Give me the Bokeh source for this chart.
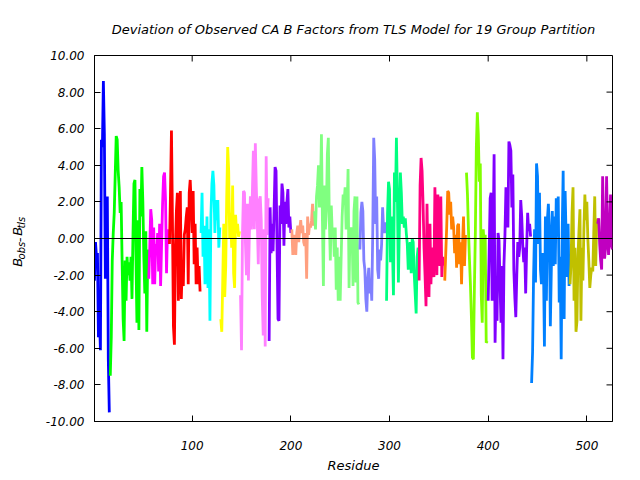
import numpy as np
from bokeh.plotting import figure
from bokeh.layouts import row
from bokeh.models import (Range1d, LinearAxis, FixedTicker, PrintfTickFormatter,
                          Span, ColumnDataSource)
from bokeh.core.properties import value
from bokeh.embed import file_html
from bokeh.resources import INLINE

FONT = "DejaVu Sans"

title_text = "Deviation of Observed CA B Factors from TLS Model for 19 Group Partition"
x_label = "Residue"
y_label_parts = ["B", "obs", "-", "B", "tls"]
y_ticks = [-10, -8, -6, -4, -2, 0, 2, 4, 6, 8, 10]
x_ticks = [100, 200, 300, 400, 500]
x_min, x_max = 1, 526
y_min, y_max = -10, 10

segment_colors = ["#0000FF", "#00FF00", "#FF00FF", "#FF0000", "#00FFFF", "#FFFF00",
                  "#FF80FF", "#8000FF", "#FFA080", "#80FF80", "#8080FF", "#00FF80",
                  "#FF0080", "#FF8000", "#80FF00", "#8000FF", "#0080FF", "#C0C000",
                  "#C000C0"]
segment_starts = [1, 17, 56, 77, 109, 129, 149, 178, 201, 224, 270, 297, 330, 356,
                  378, 400, 444, 483, 511]

seg01 = [-2.3, -0.2, -1.0, -0.8, -5.4, -4.2, -6.1, 5.4, 5.0, 8.6, 5.7, -2.2, 0.5, 2.3, -6.6, -9.5]
seg02 = [-7.5, -5.4, -1.2, 0.3, 1.4, 3.5, 5.6, 5.4, 3.7, 2.8, 1.4, 2.0, -1.3, -4.4, -5.6, -1.2,
         -3.4, -1.0, -2.0, -1.3, -2.3, -1.0, -3.3, 0.2, 3.0, 3.2, -1.0, -4.6, 1.0, -5.0, 2.7,
         1.2, 3.9, 2.0, -1.0, -3.0, 0.4, -5.1, -0.6]
seg03 = [-2.2, -0.5, 1.6, 1.0, -2.5, 0.6, -2.5, -0.3, -0.7, 0.3, -1.8, 0.8, -2.6, -0.3, 1.9,
         3.4, 3.6, 2.1, -1.9, 0.5, -0.3]
seg04 = [-0.3, 2.4, 5.9, 1.0, -4.8, -5.8, -0.5, 1.5, 2.5, -3.4, 0.5, 2.6, -3.3, -1.3, -2.6,
         0.2, 0.5, 1.2, 1.7, -2.5, 2.5, 3.2, 1.9, 0.3, 2.6, -1.4, 0.8, -2.5, -0.5, -2.5, -1.5, -2.9]
seg05 = [0.3, 2.5, -1.0, 0.7, -2.5, -1.7, 1.2, -2.7, 0.5, -4.5, 1.3, 3.0, 3.7, 2.9, 0.3, 2.1,
         1.0, 2.1, -0.5, 0.6]
seg06 = [-4.4, -5.1, -2.2, 0.8, -3.2, -1.5, 2.3, 5.0, 3.7, 0.0, 1.4, -0.5, 2.9, -1.9, -2.7,
         1.3, 0.3, 0.8, 0.1, 0.4]
seg07 = [-3.1, -6.1, 0.3, 2.6, 2.5, -0.3, -2.0, 1.9, -2.3, 0.3, 2.3, 0.5, 2.5, 4.8, 0.5, 5.2,
         2.8, 0.9, -1.4, 2.1, 2.3, 1.0, -3.2, -5.3, 0.5, -5.9, 4.5, 0.2, 2.2]
seg08 = [-5.6, 1.7, -0.8, 0.8, -0.7, 1.5, 3.9, 3.7, -0.5, -4.4, -4.5, 1.8, 0.8, 3.0, 2.5,
         -0.4, 2.0, 0.8, 2.0, 2.7, 0.6, 1.2, 0.3]
seg09 = [0.5, -0.9, -0.2, 0.2, -0.9, 0.3, 0.7, -0.2, 0.5, 1.0, 0.3, 0.7, -0.2, -0.4, 0.3,
         -2.2, 1.2, 0.2, 0.8, 0.6, 1.0, 1.9, 0.7]
seg10 = [1.5, 0.5, 2.3, 2.9, 4.0, 1.7, 2.5, 5.7, 1.0, -2.6, 2.9, 0.5, 1.5, 4.6, 5.5, 1.0,
         -1.2, 1.8, 0.2, 0.6, -1.0, 0.6, -2.8, -0.5, -3.4, -1.0, -3.4, -1.0, 1.2, 2.4, 2.0,
         2.8, 0.5, 1.5, 3.8, -2.7, 0.6, 0.1, 0.6, -2.6, 1.5, 2.3, -2.4, 2.3, -3.5, -3.6]
seg11 = [-0.6, 1.4, 2.0, 1.5, -1.2, -1.7, -3.3, -4.0, -2.2, -1.6, -3.0, -2.2, -3.4, 0.3, 5.5,
         4.3, 0.8, 2.3, -1.7, -2.2, -0.6, -1.2, -0.3, 1.7, 0.5, 0.3, 0.9]
seg12 = [-3.4, 1.4, 3.1, 2.7, -1.3, 1.2, -0.5, -3.1, 3.6, 2.0, 5.5, 2.3, -2.4, 0.6, 3.6, 2.5,
         0.8, 1.2, 0.6, 1.1, 0.3, -0.3, -1.7, -0.6, -0.2, -1.9, 0.0, -0.2, -1.9, -3.0, -4.1,
         -1.0, -0.5]
seg13 = [-2.3, 2.9, 4.4, 3.7, 1.9, -0.5, -2.0, -3.7, 1.9, -1.5, -3.2, 0.8, -2.5, -0.5, -1.8,
         -2.1, 2.8, 0.5, -2.0, 2.4, 0.3, -1.5, 2.3, -2.1, -1.0, -1.5]
seg14 = [-2.3, -0.8, 0.7, 2.6, 2.5, 1.3, 2.0, 0.5, 1.2, 0.6, -0.8, 0.2, -1.6, 0.7, 0.8, -1.4,
         -0.2, -2.5, -0.3, 1.2, -1.5, 0.2]
seg15 = [3.6, 2.4, 0.5, -1.1, -2.5, -4.3, -6.5, -6.6, -2.8, 0.3, 5.0, 6.9, 5.7, 3.1, 4.1,
         -3.1, -4.6, 0.5, -0.4, 0.2, -5.7, -5.6]
seg16 = [-3.4, -0.7, 2.2, 2.5, -3.4, 0.0, 4.6, -5.7, -2.5, -4.5, 0.3, -0.1, -2.5, -4.6, -1.5,
         -6.6, -1.4, 0.2, 2.8, 2.5, 0.6, 5.3, 5.1, 4.8, 1.7, 3.5, -1.7, -3.2, -4.3, -2.0, -0.2,
         -1.0, -0.5, 2.1, 1.2, -0.3, -1.3, -0.5, -3.0, -0.5, 1.4, 0.4, 0.8, 0.1]
seg17 = [-7.9, -6.2, -2.1, 0.5, -2.4, 4.1, 3.4, -0.3, 2.5, -1.7, -2.5, -0.8, -1.2, -5.9, 1.2,
         -3.4, 1.0, 1.9, 0.6, -4.8, -1.7, 1.5, -1.5, 1.2, -1.4, 2.2, 0.1, 2.3, -3.5, -1.0,
         -6.6, 0.3, 3.7, -4.4, 2.6, 0.0, -2.1, 0.8, -2.6]
seg18 = [-2.5, -1.4, 1.4, 2.8, -3.4, -0.5, -5.1, -4.5, -1.0, 0.4, 1.6, -4.5, -0.5, -2.3, 0.5,
         2.4, 1.0, 2.0, 0.0, -1.2, -2.7, -2.0, -1.6, -1.8, 0.3, 2.3, -1.5, 1.1]
seg19 = [0.8, 1.1, -0.3, -1.2, -1.7, 3.4, 0.5, -1.1, -0.5, 3.4, 0.2, -0.9, 0.4, 2.4, -0.4, -0.6]

segments = [seg01, seg02, seg03, seg04, seg05, seg06, seg07, seg08, seg09, seg10,
            seg11, seg12, seg13, seg14, seg15, seg16, seg17, seg18, seg19]

# ---------------- main plot ----------------
p = figure(width=610, height=480, output_backend="svg", toolbar_location=None,
           x_range=Range1d(x_min, x_max), y_range=Range1d(y_min, y_max),
           x_axis_type=None, y_axis_type=None,
           min_border_left=64, min_border_right=28, min_border_top=55, min_border_bottom=59)
p.outline_line_color = "black"
p.outline_line_width = 1
p.background_fill_color = "white"
p.border_fill_color = "white"

p.title.text = title_text
p.title.align = "center"
p.title.text_font = FONT
p.title.text_font_style = "italic"
p.title.text_font_size = "13px"
p.title.text_color = "black"
p.title.standoff = 38

for start, vals, col in zip(segment_starts, segments, segment_colors):
    xs = np.arange(start, start + len(vals))
    src = ColumnDataSource(dict(x=xs, y=vals))
    p.line("x", "y", source=src, line_color=col, line_width=2.8)

p.add_layout(Span(location=0, dimension="width", line_color="black", line_width=1))

# mirrored inward ticks on top and right edges
p.ray(x=x_ticks, y=[y_max] * len(x_ticks), length=6, length_units="screen",
      angle=-np.pi / 2, line_color="black", line_width=1)
p.ray(x=[x_max] * len(y_ticks), y=y_ticks, length=6, length_units="screen",
      angle=np.pi, line_color="black", line_width=1)


def style_axis(ax):
    ax.major_tick_in = 6
    ax.major_tick_out = 0
    ax.minor_tick_line_color = None
    ax.axis_line_color = "black"
    ax.major_tick_line_color = "black"
    ax.major_label_text_font = FONT
    ax.major_label_text_font_style = "italic"
    ax.major_label_text_color = "black"
    ax.major_label_text_font_size = "12px"


left = LinearAxis(ticker=FixedTicker(ticks=y_ticks), formatter=PrintfTickFormatter(format="%.2f"))
style_axis(left)
left.major_label_standoff = 10
p.add_layout(left, "left")

bottom = LinearAxis(ticker=FixedTicker(ticks=x_ticks), axis_label=x_label)
style_axis(bottom)
bottom.major_label_standoff = 19
bottom.axis_label_text_font = FONT
bottom.axis_label_text_font_style = "italic"
bottom.axis_label_text_font_size = "13px"
bottom.axis_label_text_color = "black"
bottom.axis_label_standoff = 5
p.add_layout(bottom, "below")

# ---------------- y-axis label strip: B_obs - B_tls ----------------
ylab = figure(width=30, height=480, output_backend="svg", toolbar_location=None,
              x_range=Range1d(0, 30), y_range=Range1d(0, 480),
              x_axis_type=None, y_axis_type=None,
              min_border=0, min_border_left=0, min_border_right=0,
              min_border_top=0, min_border_bottom=0)
ylab.outline_line_color = None
ylab.background_fill_color = "white"
ylab.border_fill_color = "white"
ylab.grid.visible = False

main_src = ColumnDataSource(dict(x=[17, 18.5, 17], y=[203, 235, 243.5],
                                 t=[y_label_parts[0], y_label_parts[2], y_label_parts[3]]))
sub_src = ColumnDataSource(dict(x=[20.5, 20.5], y=[212.5, 253],
                                t=[y_label_parts[1], y_label_parts[4]]))
ylab.text("x", "y", text="t", source=main_src, angle=np.pi / 2, text_align="left",
          text_baseline="middle", text_font=value(FONT), text_font_style="italic",
          text_font_size="13px", text_color="black")
ylab.text("x", "y", text="t", source=sub_src, angle=np.pi / 2, text_align="left",
          text_baseline="middle", text_font=value(FONT), text_font_style="italic",
          text_font_size="10px", text_color="black")

layout = row(ylab, p)
open("out.html", "w").write(file_html(layout, INLINE))
